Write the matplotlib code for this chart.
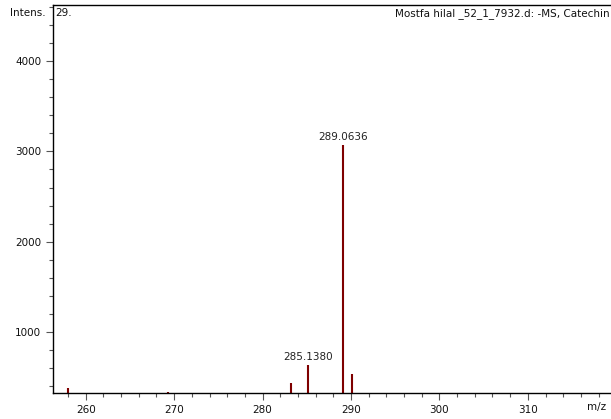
import matplotlib
matplotlib.use("Agg")
import matplotlib.pyplot as plt
from matplotlib.ticker import MultipleLocator

# peak list
mz = [257.96, 269.3, 283.16, 285.138, 289.0636, 290.07]
intens = [380, 335, 440, 635, 3066, 535]
labelled = {285.138: "285.1380", 289.0636: "289.0636"}

plt.rcParams['font.family'] = ['DejaVu Sans']
plt.rcParams['font.size'] = 7.5

fig = plt.figure(figsize=(6.11, 4.19), dpi=100)
ax = fig.add_axes([0.0867, 0.062, 0.9133, 0.926])

base = 325
ax.vlines(mz, base, intens, color='#7f0000', linewidth=1.5)
for x, y in zip(mz, intens):
    if x in labelled:
        ax.text(x, y + 35, labelled[x], ha='center', va='bottom', color='#222222', fontsize=7.5)

ax.set_xlim(256.3, 319.4)
ax.set_ylim(base, 4620)
ax.xaxis.set_major_locator(MultipleLocator(10))
ax.xaxis.set_minor_locator(MultipleLocator(2))
ax.yaxis.set_major_locator(MultipleLocator(1000))
ax.yaxis.set_minor_locator(MultipleLocator(200))
ax.tick_params(axis='both', which='major', length=5, width=0.8, color='#555555', labelcolor='#111111')
ax.tick_params(axis='both', which='minor', length=3, width=0.8, color='#555555')

ax.spines['right'].set_visible(False)
for s in ['left', 'top', 'bottom']:
    ax.spines[s].set_linewidth(1.0)

# unit at the end of the axis and the intensity label above it
fig.text(0.977, 0.0285, "m/z", ha='center', va='center', fontsize=7.5, color='#111111')
fig.text(0.045, 0.969, "Intens.", ha='center', va='center', fontsize=7.5, color='#111111')
ax.text(0.004, 0.992, "29.", transform=ax.transAxes, ha='left', va='top', fontsize=7.5, color='#111111')
ax.text(0.997, 0.992, "Mostfa hilal _52_1_7932.d: -MS, Catechin", transform=ax.transAxes,
        ha='right', va='top', fontsize=7.5, color='#111111')

fig.savefig("out.png", dpi=100)
